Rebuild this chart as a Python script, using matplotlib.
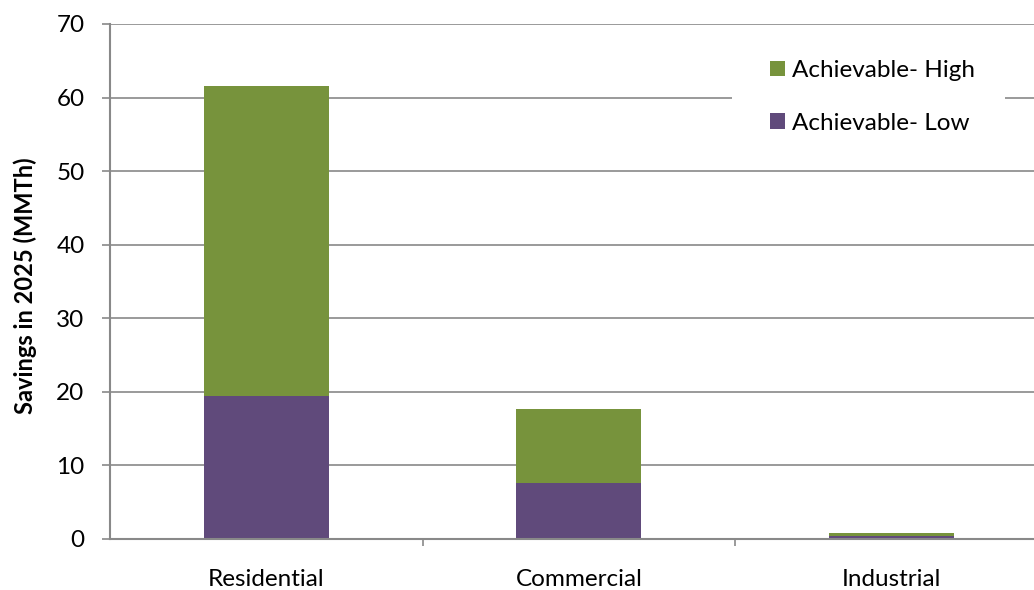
import matplotlib
matplotlib.use("Agg")
import matplotlib.pyplot as plt
from matplotlib.patches import Rectangle
import numpy as np

# savings by sector (MMTh)
sectors = ["Residential", "Commercial", "Industrial"]
low = [19.4, 7.6, 0.35]
high = [42.2, 10.0, 0.4]

green = "#77933C"
purple = "#604A7B"
grey = "#898989"

plt.rcParams["font.family"] = ["Lato", "DejaVu Sans"]

fig = plt.figure(figsize=(10.34, 5.9), dpi=100)
ax = fig.add_axes([110.3 / 1034, 1 - 538.7 / 590, 1 - 110.3 / 1034, (538.7 - 24) / 590])

x = np.arange(len(sectors))
b_low = ax.bar(x, low, width=0.4, color=purple, zorder=2, label="Achievable- Low")
b_high = ax.bar(x, high, width=0.4, bottom=low, color=green, zorder=2, label="Achievable- High")

ax.set_ylim(0, 70)
ax.set_xlim(-0.5, (1034 - 110.3) / 312.4 - 0.5)
ax.set_yticks(range(0, 71, 10))
ax.yaxis.grid(True, color=grey, linewidth=1.2, zorder=0)
ax.set_axisbelow(True)

ax.set_xticks(x)
ax.set_xticklabels(sectors)
ax.set_xticks(x[:-1] + 0.5, minor=True)
ax.tick_params(axis="x", which="major", length=0, pad=22, labelsize=17.5, colors="black")
ax.tick_params(axis="x", which="minor", length=5, width=1.2, color=grey)
ax.tick_params(axis="y", length=6, width=1.2, color=grey, pad=12.5, labelsize=17.5)

for s in ["top", "right"]:
    ax.spines[s].set_visible(False)
for s in ["left", "bottom"]:
    ax.spines[s].set_color(grey)
    ax.spines[s].set_linewidth(1.5)

ax.set_ylabel("Savings in 2025 (MMTh)", fontsize=17, fontweight="bold")
ax.yaxis.set_label_coords(-0.079, 0.491)

# white backing behind the legend hides the gridline
ax.add_patch(Rectangle((732 / 1034, 1 - 150 / 590), 273 / 1034, 110 / 590,
                       transform=fig.transFigure, facecolor="white",
                       edgecolor="none", zorder=1, clip_on=False))

ax.legend([b_high, b_low], ["Achievable- High", "Achievable- Low"],
          loc="upper left", bbox_to_anchor=(758 / 1034, 1 - 48 / 590),
          bbox_transform=fig.transFigure, frameon=False, borderpad=0,
          fontsize=17.5, handlelength=0.6, handleheight=0.6,
          handletextpad=0.3, labelspacing=1.3)

fig.savefig("out.png", dpi=100)
